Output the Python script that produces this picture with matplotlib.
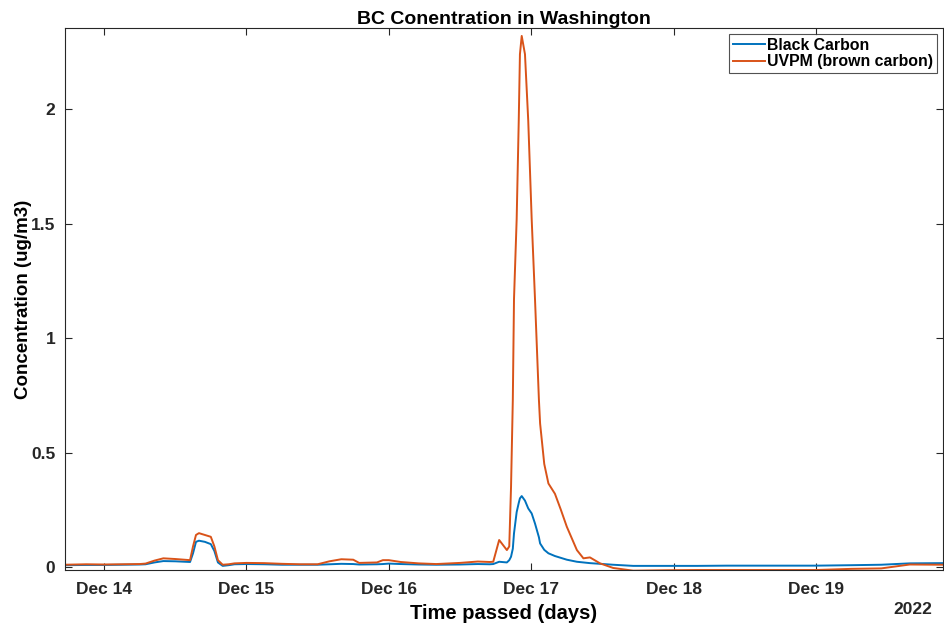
import matplotlib
matplotlib.use("Agg")
import matplotlib.pyplot as plt
import matplotlib.dates as mdates
import numpy as np
import pandas as pd

plt.rcParams['font.family'] = ['Liberation Sans', 'DejaVu Sans']
plt.rcParams['font.weight'] = 'bold'

# hours after Dec 14 2022 00:00
hours = [-6.6, -3, 0, 3, 6, 7, 8.5, 10, 12, 14.5, 15.0, 15.5, 16.0, 17.0, 18.0,
         18.6, 19.2, 20.0, 21, 22, 24, 27, 30, 33, 36, 38, 40, 42, 43, 46, 47,
         48, 50, 53, 56, 60, 63, 65, 65.6, 66.6, 67.9, 68.3, 68.6, 68.9, 69.1,
         69.55, 69.9, 70.1, 70.4, 70.95, 71.5, 72.08, 72.64, 73.3, 73.5, 74.2,
         74.9, 76.0, 77.0, 78.0, 79.7, 80.8, 81.9, 83.6, 85.8, 89.2, 95, 100,
         105, 110, 115, 120, 126, 131, 135.8, 141.4]

black_carbon = [0.008, 0.009, 0.009, 0.010, 0.011, 0.012, 0.020, 0.026, 0.025,
                0.022, 0.060, 0.110, 0.115, 0.110, 0.100, 0.070, 0.020, 0.005,
                0.008, 0.012, 0.013, 0.012, 0.010, 0.010, 0.010, 0.012, 0.014,
                0.013, 0.011, 0.012, 0.013, 0.015, 0.013, 0.011, 0.010, 0.011,
                0.013, 0.012, 0.013, 0.023, 0.020, 0.030, 0.045, 0.080, 0.147,
                0.240, 0.280, 0.300, 0.310, 0.290, 0.256, 0.234, 0.190, 0.130,
                0.103, 0.075, 0.060, 0.048, 0.040, 0.032, 0.023, 0.020, 0.017,
                0.014, 0.010, 0.005, 0.005, 0.005, 0.006, 0.006, 0.006, 0.006,
                0.008, 0.010, 0.016, 0.017]

uvpm = [0.010, 0.012, 0.011, 0.012, 0.013, 0.015, 0.028, 0.038, 0.035, 0.030,
        0.090, 0.140, 0.148, 0.140, 0.132, 0.090, 0.030, 0.010, 0.012, 0.016,
        0.018, 0.017, 0.014, 0.012, 0.012, 0.025, 0.034, 0.032, 0.018, 0.020,
        0.030, 0.030, 0.022, 0.016, 0.013, 0.018, 0.024, 0.022, 0.023, 0.118,
        0.074, 0.090, 0.350, 0.730, 1.170, 1.520, 1.950, 2.240, 2.320, 2.240,
        1.950, 1.520, 1.170, 0.730, 0.627, 0.450, 0.365, 0.320, 0.250, 0.176,
        0.074, 0.038, 0.042, 0.016, -0.004, -0.016, -0.014, -0.013, -0.013,
        -0.013, -0.013, -0.013, -0.008, -0.006, 0.011, 0.010]

start = pd.Timestamp('2022-12-14 00:00')
times = [start + pd.Timedelta(hours=h) for h in hours]

fig = plt.figure(figsize=(9.44, 6.25), dpi=100)
ax = fig.add_axes([0.0689, 0.088, 0.930, 0.867])

ax.plot(times, black_carbon, color='#0072BD', lw=1.4, label='Black Carbon')
ax.plot(times, uvpm, color='#D95319', lw=1.4, label='UVPM (brown carbon)')

ax.set_xlim(start + pd.Timedelta(hours=-6.57), start + pd.Timedelta(hours=141.4))
ax.set_ylim(-0.013, 2.354)
ax.set_yticks([0, 0.5, 1, 1.5, 2])
ax.set_yticklabels(['0', '0.5', '1', '1.5', '2'])
ax.xaxis.set_major_locator(mdates.DayLocator())
ax.xaxis.set_major_formatter(mdates.DateFormatter('%b %d'))

for s in ax.spines.values():
    s.set_color('#262626')
    s.set_linewidth(0.8)
ax.tick_params(axis='both', direction='in', top=True, right=True, labelsize=12.5,
               colors='#262626', length=5, width=0.8)
ax.tick_params(axis='x', pad=9)
ax.tick_params(axis='y', pad=7)

ax.set_title('BC Conentration in Washington', fontsize=14, fontweight='bold', pad=3)
ax.set_xlabel('Time passed (days)', fontsize=14.5, fontweight='bold', labelpad=5)
ax.set_ylabel('Concentration (ug/m3)', fontsize=13.5, fontweight='bold', labelpad=-1)
ax.text(0.988, -0.072, '2022', transform=ax.transAxes, ha='right', va='center',
        fontsize=12.5, fontweight='bold', color='#262626')

leg = ax.legend(loc='upper right', fontsize=11.4, frameon=True, fancybox=False,
                edgecolor='#262626', handlelength=2.0, handletextpad=0.15,
                borderpad=0.25, labelspacing=0.1, borderaxespad=0.35)
leg.get_frame().set_linewidth(0.8)

fig.savefig('out.png', dpi=100)
